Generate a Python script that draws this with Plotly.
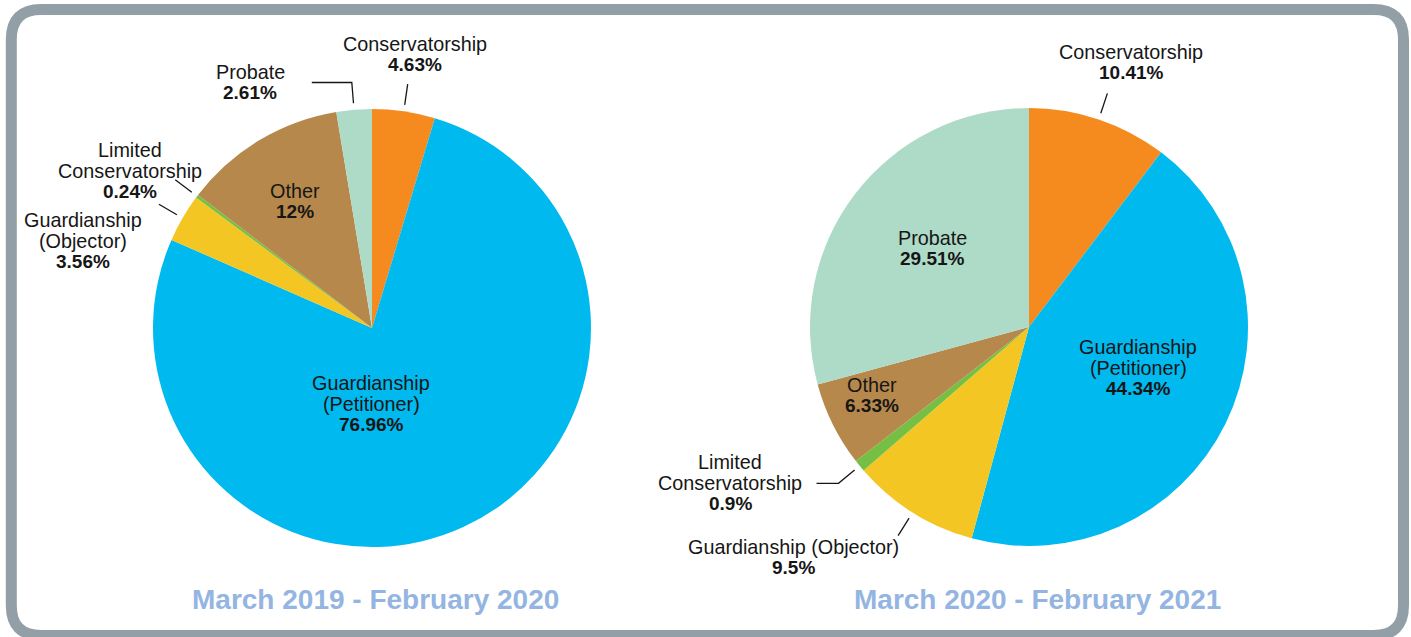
import math
import plotly.graph_objects as go

W, H = 1411, 637

# ---- data -------------------------------------------------------------
categories = [
    "Conservatorship",
    "Guardianship (Petitioner)",
    "Guardianship (Objector)",
    "Limited Conservatorship",
    "Other",
    "Probate",
]
share_2019 = [4.63, 76.96, 3.56, 0.24, 12, 2.61]
share_2020 = [10.41, 44.34, 9.5, 0.9, 6.33, 29.51]
pct_text_2019 = ["4.63%", "76.96%", "3.56%", "0.24%", "12%", "2.61%"]
pct_text_2020 = ["10.41%", "44.34%", "9.5%", "0.9%", "6.33%", "29.51%"]
period_titles = ["March 2019 - February 2020", "March 2020 - February 2021"]

slice_colors = ["#F58A1F", "#00B9EF", "#F3C623", "#75C044", "#B7884B", "#ADDBC7"]

# ---- styling / layout helpers ------------------------------------------
FONT = "Liberation Sans"
TXT = "#161616"
TITLE_COLOR = "#94B5E1"
BORDER = "#939FA7"
LINE_H = 20.5

# pie geometry in pixels: centre x, centre y, radius
pies = [
    dict(cx=372, cy=328, r=219, values=share_2019, pct=pct_text_2019, title_x=375),
    dict(cx=1029, cy=327, r=219, values=share_2020, pct=pct_text_2020, title_x=1037),
]

# label layout per pie: name lines, text anchor (x, first line y), leader options
pies[0]["labels"] = {
    "Conservatorship": dict(lines=["Conservatorship"], pos=(415, 44), leader=True),
    "Probate": dict(lines=["Probate"], pos=(250, 72), leader=True, elbow=-40),
    "Limited Conservatorship": dict(lines=["Limited", "Conservatorship"], pos=(130, 150), leader=True),
    "Guardianship (Objector)": dict(lines=["Guardianship", "(Objector)"], pos=(83, 220), leader=True),
    "Other": dict(lines=["Other"], pos=(295, 191)),
    "Guardianship (Petitioner)": dict(lines=["Guardianship", "(Petitioner)"], pos=(371, 383)),
}
pies[1]["labels"] = {
    "Conservatorship": dict(lines=["Conservatorship"], pos=(1131, 52), leader=True),
    "Probate": dict(lines=["Probate"], pos=(932, 238)),
    "Limited Conservatorship": dict(lines=["Limited", "Conservatorship"], pos=(730, 462), leader=True, elbow=-22),
    "Guardianship (Objector)": dict(lines=["Guardianship (Objector)"], pos=(793, 547), leader=True),
    "Other": dict(lines=["Other"], pos=(872, 385)),
    "Guardianship (Petitioner)": dict(lines=["Guardianship", "(Petitioner)"], pos=(1138, 347)),
}

fig = go.Figure()

# invisible pixel-scaled axes used for annotations and leader lines
fig.update_layout(
    xaxis=dict(range=[0, W], visible=False, domain=[0, 1], fixedrange=True),
    yaxis=dict(range=[H, 0], visible=False, domain=[0, 1], fixedrange=True),
)
fig.add_trace(go.Scatter(x=[0, W], y=[0, H], mode="markers",
                         marker=dict(opacity=0), hoverinfo="skip", showlegend=False))

annotations = []
shapes = []

for p in pies:
    cx, cy, r = p["cx"], p["cy"], p["r"]
    fig.add_trace(go.Pie(
        labels=categories,
        values=p["values"],
        sort=False,
        direction="clockwise",
        rotation=0,
        marker=dict(colors=slice_colors, line=dict(width=0)),
        textinfo="none",
        hoverinfo="label+percent",
        showlegend=False,
        domain=dict(x=[(cx - r) / W, (cx + r) / W],
                    y=[(H - cy - r) / H, (H - cy + r) / H]),
    ))

    total = sum(p["values"])
    cum = 0.0
    for cat, val, pct in zip(categories, p["values"], p["pct"]):
        mid = (cum + val / 2) / total * 2 * math.pi
        cum += val
        spec = p["labels"][cat]
        lx, ly = spec["pos"]
        lines = [(t, False) for t in spec["lines"]] + [(pct, True)]
        for i, (t, bold) in enumerate(lines):
            annotations.append(dict(
                x=lx, y=ly + i * LINE_H, xref="x", yref="y",
                text=f"<b>{t}</b>" if bold else t,
                showarrow=False, xanchor="center", yanchor="middle",
                font=dict(family=FONT, size=19 if bold else 19.8, color=TXT),
            ))
        if spec.get("leader"):
            x0 = cx + 1.03 * r * math.sin(mid)
            y0 = cy - 1.03 * r * math.cos(mid)
            x1 = cx + 1.125 * r * math.sin(mid)
            y1 = cy - 1.125 * r * math.cos(mid)
            path = f"M {x0:.1f} {y0:.1f} L {x1:.1f} {y1:.1f}"
            if spec.get("elbow"):
                path += f" L {x1 + spec['elbow']:.1f} {y1:.1f}"
            shapes.append(dict(type="path", xref="x", yref="y", path=path,
                               line=dict(color=TXT, width=1.3)))

for p, title in zip(pies, period_titles):
    annotations.append(dict(
        x=p["title_x"], y=599, xref="x", yref="y", text=f"<b>{title}</b>",
        showarrow=False, xanchor="center", yanchor="middle",
        font=dict(family=FONT, size=28, color=TITLE_COLOR),
    ))

# rounded frame around both charts
x0, y0, x1, y1, rad = 11.3, 9.5, 1403.5, 635.5, 30
frame = (f"M {x0 + rad} {y0} L {x1 - rad} {y0} Q {x1} {y0} {x1} {y0 + rad} "
         f"L {x1} {y1 - rad} Q {x1} {y1} {x1 - rad} {y1} "
         f"L {x0 + rad} {y1} Q {x0} {y1} {x0} {y1 - rad} "
         f"L {x0} {y0 + rad} Q {x0} {y0} {x0 + rad} {y0} Z")
shapes.append(dict(type="path", xref="x", yref="y", path=frame,
                   line=dict(color=BORDER, width=11), layer="below"))

fig.update_layout(
    width=W, height=H,
    margin=dict(l=0, r=0, t=0, b=0),
    paper_bgcolor="white", plot_bgcolor="rgba(0,0,0,0)",
    annotations=annotations, shapes=shapes,
    showlegend=False,
)

fig.write_html("out.html")
